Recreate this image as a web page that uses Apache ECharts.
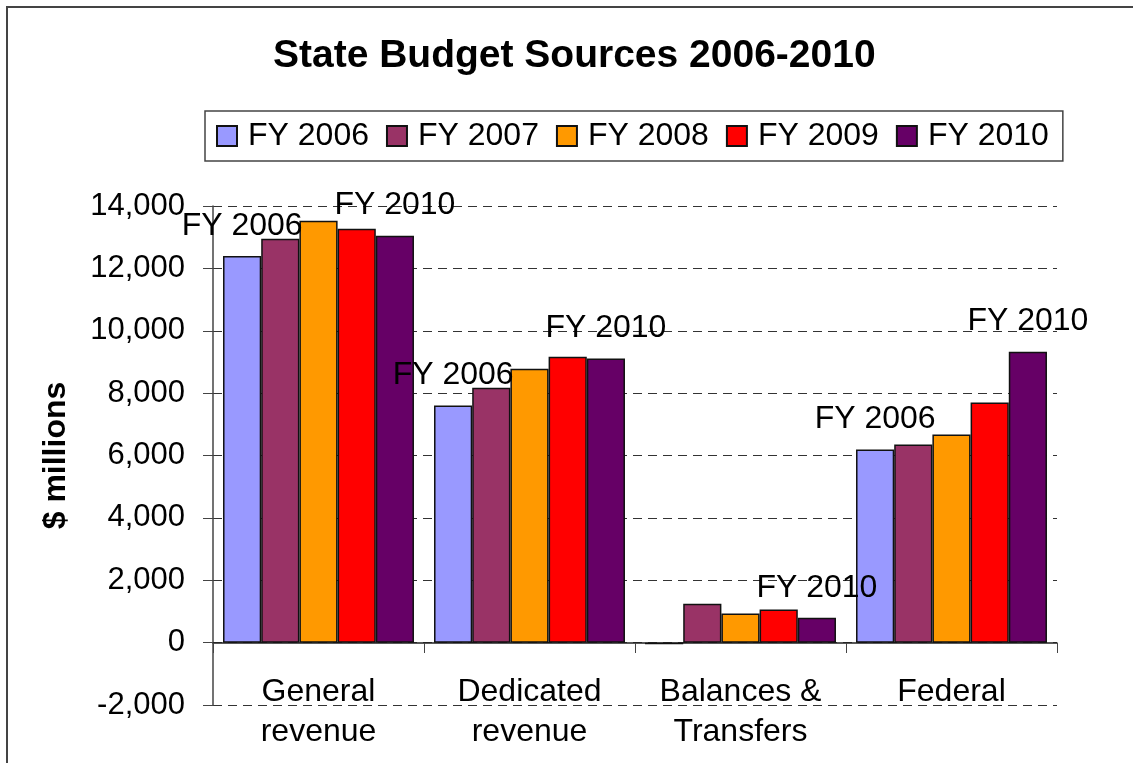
<!DOCTYPE html>
<html>
<head>
<meta charset="utf-8">
<style>
  html, body { margin: 0; padding: 0; background: #fff; }
  #main { width: 1133px; height: 763px; }
</style>
<script src="https://cdn.jsdelivr.net/npm/echarts@6/dist/echarts.min.js"></script>
</head>
<body>
<div id="main"></div>
<script>
let categories = ["General\nrevenue", "Dedicated\nrevenue", "Balances &\nTransfers", "Federal"];
let seriesNames = ["FY 2006", "FY 2007", "FY 2008", "FY 2009", "FY 2010"];
let colors = ["#9999FF", "#993366", "#FF9900", "#FF0000", "#660066"];

let fy2006 = [12400, 7600, -50, 6190];
let fy2007 = [12950, 8170, 1250, 6350];
let fy2008 = [13530, 8780, 930, 6670];
let fy2009 = [13270, 9170, 1060, 7700];
let fy2010 = [13050, 9110, 800, 9330];

// which bars carry the series-name label
let showLabel2006 = [true, true, false, true];
let showLabel2010 = [true, true, true, true];

let yTicks = { min: -2000, max: 14000, interval: 2000 };

let font = "Liberation Sans, Arial, sans-serif";

let dom = document.getElementById("main");
let myChart = echarts.init(dom, null, { renderer: "canvas" });

function buildData(values, flags) {
    return values.map(function (v, i) {
        return {
            value: v,
            label: { show: flags ? flags[i] : false },
        };
    });
}

let allValues = [fy2006, fy2007, fy2008, fy2009, fy2010];
let allFlags = [showLabel2006, null, null, null, showLabel2010];

let series = seriesNames.map(function (name, i) {
    return {
        name: name,
        type: "bar",
        barGap: "0%",
        barCategoryGap: "9.5%",
        itemStyle: {
            color: colors[i],
            borderColor: "#111",
            borderWidth: 1.5,
        },
        label: {
            show: false,
            position: "top",
            distance: 14,
            formatter: "{a}",
            color: "#000",
            fontFamily: font,
            fontSize: 32,
        },
        emphasis: { disabled: true },
        data: buildData(allValues[i], allFlags[i]),
    };
});

// grid is 499px tall for 16000 units, so the zero line sits 62px above the bottom
let plotHeight = 499;
let zeroOffset = -Math.round(plotHeight * (0 - yTicks.min) / (yTicks.max - yTicks.min));

let option = {
    animation: false,
    color: colors,
    title: {
        text: "State Budget Sources 2006-2010",
        left: 273,
        top: 37,
        padding: 0,
        textStyle: {
            fontFamily: font,
            fontSize: 39,
            fontWeight: "bold",
            color: "#000",
        },
    },
    legend: {
        left: 205,
        top: 111,
        padding: [9, 14, 9, 11],
        itemWidth: 20,
        itemHeight: 20,
        itemGap: 17,
        icon: "rect",
        borderColor: "#444",
        borderWidth: 1.5,
        textStyle: {
            fontFamily: font,
            fontSize: 32,
            color: "#000",
            padding: [0, 0, 0, 6],
        },
        data: seriesNames,
    },
    grid: {
        left: 213,
        right: 76,
        top: 206,
        bottom: 58,
        containLabel: false,
        outerBoundsMode: "none",
    },
    xAxis: {
        type: "category",
        data: categories,
        offset: zeroOffset,
        axisLine: { onZero: false, lineStyle: { color: "#222", width: 1.5 } },
        axisTick: { show: true, length: 10, lineStyle: { color: "#444" } },
        axisLabel: {
            interval: 0,
            margin: 29,
            fontFamily: font,
            fontSize: 32,
            lineHeight: 40,
            color: "#000",
        },
    },
    yAxis: {
        type: "value",
        min: yTicks.min,
        max: yTicks.max,
        interval: yTicks.interval,
        name: "$ millions",
        nameLocation: "middle",
        nameRotate: 90,
        nameGap: 141,
        nameTextStyle: {
            fontFamily: font,
            fontSize: 32,
            fontWeight: "bold",
            color: "#000",
        },
        axisLine: { show: true, lineStyle: { color: "#444", width: 1.5 } },
        axisTick: { show: true, length: 10, lineStyle: { color: "#444" } },
        axisLabel: {
            margin: 28,
            fontFamily: font,
            fontSize: 31,
            color: "#000",
            formatter: function (v) {
                return v.toLocaleString("en-US");
            },
        },
        splitLine: {
            show: true,
            lineStyle: { color: "#333", type: [9, 6], width: 1 },
        },
    },
    graphic: [{
        type: "rect",
        shape: { x: 7, y: 7, width: 1140, height: 770 },
        style: { fill: "none", stroke: "#444", lineWidth: 2 },
        silent: true,
        z: 100,
    }],
    series: series,
};

if (option && typeof option === "object") {
    myChart.setOption(option);
}

window.addEventListener("resize", myChart.resize);
</script>
</body>
</html>
